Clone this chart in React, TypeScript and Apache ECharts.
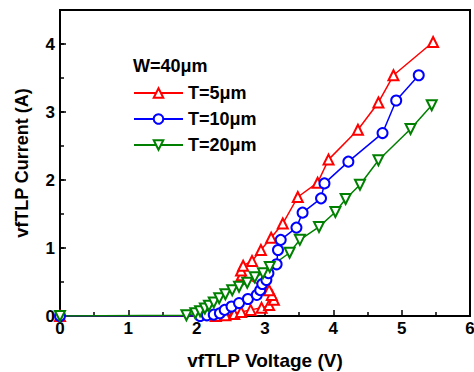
import React, { useEffect, useRef } from "react";
import * as echarts from "echarts";

const xTicks = [0, 1, 2, 3, 4, 5, 6];
const yTicks = [0, 1, 2, 3, 4];

const seriesNames = ["T=5\u03bcm", "T=10\u03bcm", "T=20\u03bcm"];
const legendTitle = "W=40\u03bcm";

const redV = [0, 2.28, 2.42, 2.55, 2.65, 2.79, 2.95, 3.06, 3.13, 3.10, 3.06, 2.66, 2.65, 2.68, 2.81, 2.94, 3.09, 3.26, 3.48, 3.77, 3.93, 4.36, 4.66, 4.88, 5.46];
const redI = [0, 0.0, 0.01, 0.03, 0.06, 0.09, 0.12, 0.16, 0.24, 0.31, 0.38, 0.6, 0.67, 0.74, 0.81, 0.97, 1.15, 1.36, 1.75, 1.96, 2.3, 2.74, 3.14, 3.54, 4.03];

const blueV = [0, 2.05, 2.15, 2.25, 2.34, 2.41, 2.51, 2.62, 2.75, 2.88, 2.93, 2.96, 3.02, 3.05, 3.17, 3.19, 3.23, 3.46, 3.55, 3.82, 3.87, 4.22, 4.72, 4.92, 5.25];
const blueI = [0, 0.0, 0.01, 0.02, 0.04, 0.09, 0.14, 0.19, 0.25, 0.31, 0.38, 0.47, 0.53, 0.63, 0.76, 0.97, 1.12, 1.3, 1.52, 1.73, 1.95, 2.27, 2.69, 3.17, 3.54];

const greenV = [0, 1.85, 1.98, 2.05, 2.12, 2.18, 2.25, 2.33, 2.42, 2.52, 2.62, 2.74, 2.85, 2.97, 3.07, 3.36, 3.51, 3.79, 4.03, 4.18, 4.39, 4.66, 5.13, 5.44];
const greenI = [0, 0.01, 0.04, 0.07, 0.11, 0.15, 0.2, 0.26, 0.32, 0.38, 0.43, 0.49, 0.57, 0.63, 0.72, 0.93, 1.12, 1.31, 1.53, 1.72, 1.93, 2.29, 2.75, 3.1];

const FONT = "'Liberation Sans', Arial, sans-serif";

function pairs(xs: number[], ys: number[]) {
  return xs.map((x, i) => [x, ys[i]]);
}

export default function App() {
  const ref = useRef<HTMLDivElement>(null);
  useEffect(() => {
    if (!ref.current) return;
    const chart = echarts.init(ref.current, null, { renderer: "svg" });
    const mk = (name: string, color: string, data: number[][], symbol: string, rotate: number) => ({
      name,
      type: "line",
      data,
      xAxisIndex: 0,
      yAxisIndex: 0,
      symbol,
      symbolSize: 10,
      symbolRotate: rotate,
      showAllSymbol: true,
      lineStyle: { color, width: 1.5 },
      itemStyle: { color, borderColor: color, borderWidth: 1.5 },
      z: 3,
    });
    chart.setOption({
      animation: false,
      backgroundColor: "#fff",
      grid: {
        left: 60,
        right: 4,
        top: 10,
        bottom: 56,
        containLabel: false,
        outerBoundsMode: "none",
        show: true,
        borderColor: "#000",
        borderWidth: 2,
        backgroundColor: "transparent",
      },
      xAxis: [
        {
          type: "value",
          min: xTicks[0],
          max: xTicks[xTicks.length - 1],
          interval: 1,
          name: "vfTLP Voltage (V)",
          nameLocation: "middle",
          nameGap: 35,
          nameTextStyle: { fontFamily: FONT, fontWeight: "bold", fontSize: 19, color: "#000" },
          axisLine: { show: true, lineStyle: { color: "#000", width: 2 } },
          axisTick: { show: true, inside: true, length: 6, lineStyle: { color: "#000", width: 1.5 } },
          minorTick: { show: true, splitNumber: 2, length: 4, lineStyle: { color: "#000", width: 1.5 } },
          splitLine: { show: false },
          axisLabel: { fontFamily: FONT, fontWeight: "bold", fontSize: 17, color: "#000", margin: 4 },
        },
      ],
      yAxis: [
        {
          type: "value",
          min: 0,
          max: 4.5,
          interval: 1,
          name: "vfTLP Current (A)",
          nameLocation: "middle",
          nameGap: 29,
          nameRotate: 90,
          nameTextStyle: { fontFamily: FONT, fontWeight: "bold", fontSize: 18, color: "#000" },
          axisLine: { show: true, lineStyle: { color: "#000", width: 2 } },
          axisTick: { show: true, inside: true, length: 6, lineStyle: { color: "#000", width: 1.5 } },
          splitLine: { show: false },
          axisLabel: {
            fontFamily: FONT,
            fontWeight: "bold",
            fontSize: 17,
            color: "#000",
            margin: 5,
            showMaxLabel: false,
            formatter: (v: number) => (yTicks.indexOf(v) >= 0 ? String(v) : ""),
          },
        },
        {
          type: "value",
          min: 0,
          max: 4.5,
          interval: 0.5,
          position: "left",
          axisLine: { show: false },
          axisTick: { show: true, inside: true, length: 4, lineStyle: { color: "#000", width: 1.5 } },
          splitLine: { show: false },
          axisLabel: { show: false },
        },
      ],
      legend: {
        orient: "vertical",
        left: 133,
        top: 84,
        padding: 0,
        itemWidth: 49,
        itemHeight: 12,
        itemGap: 8,
        data: seriesNames,
        textStyle: { fontFamily: FONT, fontWeight: "bold", fontSize: 18, color: "#000" },
      },
      graphic: [
        {
          type: "text",
          left: 133,
          top: 57,
          style: { text: legendTitle, font: `bold 18px ${FONT}`, fill: "#000" },
        },
      ],
      series: [
        mk(seriesNames[0], "#ff0000", pairs(redV, redI), "emptyTriangle", 0),
        mk(seriesNames[1], "#0000ff", pairs(blueV, blueI), "emptyCircle", 0),
        mk(seriesNames[2], "#008000", pairs(greenV, greenI), "emptyTriangle", 180),
      ],
    });
    return () => chart.dispose();
  }, []);
  return <div ref={ref} style={{ width: 474, height: 372, position: "absolute", left: 0, top: 0 }} />;
}
